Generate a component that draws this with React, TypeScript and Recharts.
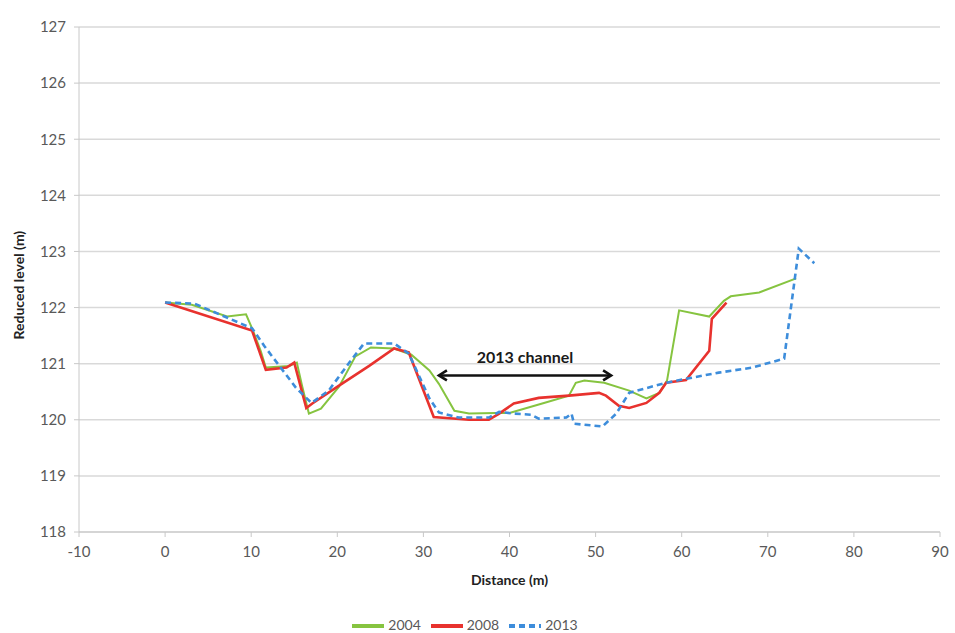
import { LineChart, Line, XAxis, YAxis, CartesianGrid, Legend, ReferenceLine } from 'recharts';

const x2004 = [0, 3.1, 7.2, 9.4, 10.1, 11.1, 11.7, 14.4, 15.3, 15.9, 16.7, 18.1, 20.2, 22.1, 23.9, 26.6, 28.6, 30.7, 31.8, 33.6, 35.3, 38.4, 40.0, 44.0, 46.9, 47.7, 48.7, 51.0, 53.9, 55.9, 57.4, 58.3, 59.7, 63.2, 64.9, 65.7, 69.0, 73.3];
const y2004 = [122.09, 122.05, 121.84, 121.88, 121.63, 121.23, 120.93, 120.96, 121.02, 120.61, 120.11, 120.2, 120.59, 121.13, 121.29, 121.27, 121.16, 120.88, 120.64, 120.16, 120.11, 120.12, 120.12, 120.3, 120.43, 120.66, 120.7, 120.66, 120.52, 120.38, 120.48, 120.7, 121.95, 121.84, 122.12, 122.2, 122.27, 122.52];

const x2008 = [0, 10.1, 11.7, 14.1, 15.0, 16.4, 17.1, 20.2, 23.7, 26.6, 28.3, 31.2, 35.3, 37.6, 38.8, 40.5, 43.4, 46.9, 50.4, 51.2, 52.7, 53.9, 55.9, 57.4, 58.2, 60.5, 63.2, 63.5, 65.2];
const y2008 = [122.09, 121.59, 120.89, 120.93, 121.02, 120.21, 120.29, 120.61, 120.96, 121.27, 121.2, 120.05, 120.0, 120.0, 120.11, 120.29, 120.39, 120.43, 120.48, 120.43, 120.25, 120.21, 120.3, 120.48, 120.66, 120.71, 121.23, 121.8, 122.09];

const x2013 = [0, 3.4, 10.1, 11.5, 15.2, 17.0, 19.0, 21.4, 23.1, 26.6, 28.3, 30.7, 31.8, 34.1, 37.6, 38.8, 40.5, 42.5, 43.4, 46.6, 47.2, 47.5, 50.8, 52.4, 53.9, 58.2, 60.5, 64.3, 68.2, 71.9, 73.6, 75.4];
const y2013 = [122.09, 122.07, 121.63, 121.32, 120.57, 120.3, 120.52, 121.02, 121.36, 121.36, 121.18, 120.38, 120.13, 120.04, 120.04, 120.14, 120.11, 120.09, 120.02, 120.04, 120.11, 119.93, 119.88, 120.11, 120.48, 120.66, 120.73, 120.84, 120.93, 121.09, 123.05, 122.79];

const xTicks = [-10, 0, 10, 20, 30, 40, 50, 60, 70, 80, 90];
const yTicks = [118, 119, 120, 121, 122, 123, 124, 125, 126, 127];

// extent of the 2013 channel arrow
const channelStart = 31.8;
const channelEnd = 51.8;
const channelLevel = 120.79;

const toPoints = (xs: number[], ys: number[]) => xs.map((x, i) => ({ x, y: ys[i] }));

const data2004 = toPoints(x2004, y2004);
const data2008 = toPoints(x2008, y2008);
const data2013 = toPoints(x2013, y2013);

const font = 'Lato, "Open Sans", sans-serif';
const tickStyle = { fontSize: 15, fill: '#595959', fontFamily: font };

export default function App() {
  return (
    <div style={{ width: 955, height: 633, background: '#fff', fontFamily: font }}>
      <style>{'body{margin:0}'}</style>
      <LineChart width={955} height={633} margin={{ top: 27, right: 15, left: 0, bottom: 0 }}>
        <defs>
          <marker id="arrowHead" viewBox="0 0 14 14" refX="11" refY="7" markerWidth="14" markerHeight="14"
            markerUnits="userSpaceOnUse" orient="auto-start-reverse">
            <path d="M3,2 L11,7 L3,12" fill="none" stroke="#111" strokeWidth={2.6} />
          </marker>
        </defs>
        <CartesianGrid vertical={false} stroke="#d9d9d9" strokeWidth={1.5} />
        <XAxis
          type="number"
          dataKey="x"
          domain={[-10, 90]}
          ticks={xTicks}
          allowDataOverflow
          stroke="#c8c8c8"
          tickSize={5}
          tick={tickStyle}
          tickMargin={9}
          height={69}
          label={{ value: 'Distance (m)', position: 'insideBottom', offset: 16, style: { fontSize: 14, fontWeight: 700, fill: '#222', fontFamily: font } }}
        />
        <YAxis
          type="number"
          domain={[118, 127]}
          ticks={yTicks}
          allowDataOverflow
          stroke="#c8c8c8"
          tickSize={5}
          tick={tickStyle}
          tickMargin={8}
          width={79}
          label={{ value: 'Reduced level (m)', angle: -90, position: 'insideLeft', offset: 19, dy: 60, style: { fontSize: 14, fontWeight: 700, fill: '#222', fontFamily: font } }}
        />
        <ReferenceLine
          segment={[{ x: channelStart, y: channelLevel }, { x: channelEnd, y: channelLevel }]}
          stroke="#111"
          strokeWidth={2.6}
          markerStart="url(#arrowHead)"
          markerEnd="url(#arrowHead)"
          label={{ value: '2013 channel', position: 'top', offset: 12, style: { fontSize: 16, fontWeight: 700, fill: '#1a1a1a', fontFamily: font } }}
        />
        <Line data={data2004} dataKey="y" name="2004" type="linear" stroke="#86c440" strokeWidth={2} dot={false} isAnimationActive={false} />
        <Line data={data2008} dataKey="y" name="2008" type="linear" stroke="#e8322e" strokeWidth={2.6} dot={false} isAnimationActive={false} />
        <Line data={data2013} dataKey="y" name="2013" type="linear" stroke="#3d8ddb" strokeWidth={2.6} strokeDasharray="6 4" dot={false} isAnimationActive={false} />
        <Legend
          verticalAlign="bottom"
          iconType="plainline"
          iconSize={32}
          wrapperStyle={{ top: 610 }}
          formatter={(value) => <span style={{ color: '#595959', fontSize: 14, fontFamily: font }}>{value}</span>}
        />
      </LineChart>
    </div>
  );
}
